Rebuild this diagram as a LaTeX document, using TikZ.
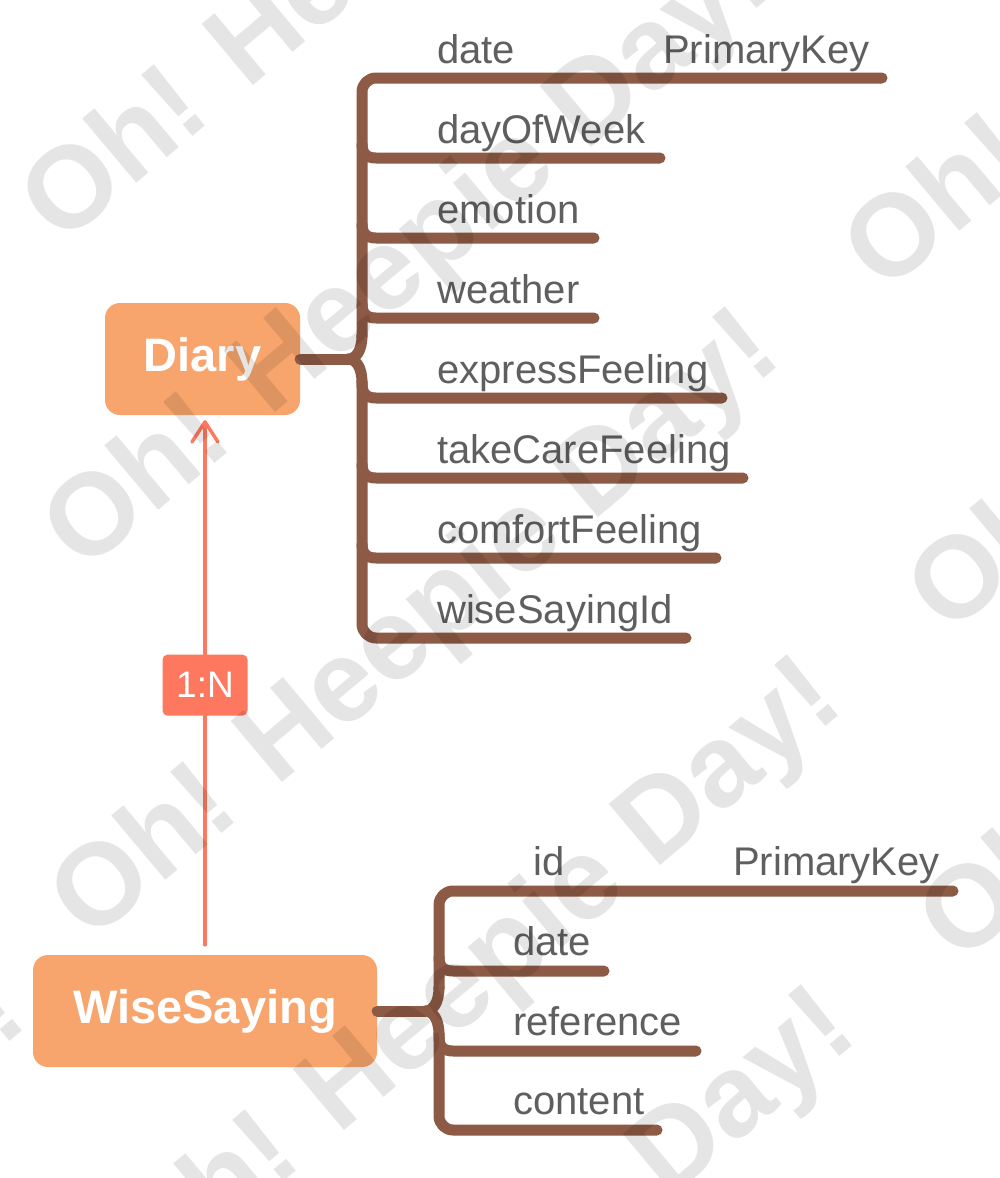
\documentclass[tikz,border=0pt]{standalone}
\usepackage{fontspec}
\setmainfont{Liberation Sans}
\usetikzlibrary{arrows.meta}
\definecolor{brn}{HTML}{8C5A45}
\definecolor{org}{HTML}{F7A56C}
\definecolor{crl}{HTML}{FE785F}
\definecolor{lblc}{HTML}{5F5F5F}
\tikzset{
 br/.style={draw=brn, line width=11pt, line cap=round, line join=round},
 fld/.style={anchor=base west, inner sep=0pt, text=lblc, font=\fontsize{40}{48}\selectfont},
 ent/.style={fill=org, rounded corners=15pt, text=white, font=\bfseries\fontsize{47}{56}\selectfont, inner sep=0pt},
 rel/.style={draw=crl, line width=3.5pt, line cap=round},
 card/.style={fill=crl, rounded corners=5pt, text=white, font=\fontsize{37}{44}\selectfont, minimum width=85pt, minimum height=61pt, inner sep=0pt},
 wm/.style={anchor=base west, rotate=40, inner sep=0pt, text=black, text opacity=0.1, font=\bfseries\fontsize{116}{140}\selectfont},
}
\begin{document}
\begin{tikzpicture}[x=1pt,y=-1pt]
\useasboundingbox (0,0) rectangle (1000,1178);
\fill[white] (0,0) rectangle (1000,1178);
% entities
\node[ent, minimum width=195pt, minimum height=112pt] (diary) at (202.5,359) {Diary};
\node[ent, minimum width=344pt, minimum height=112pt] (ws) at (205,1011) {WiseSaying};
% Diary brace
\coordinate (dtip) at (348,359);
\draw[br] (diary.east) -- (dtip);
\draw[br, rounded corners=14pt] (882,78) -- (362,78) -- (362,337);
\draw[br] (362,335) .. controls (362,351) and (356,359) .. (dtip) .. controls (356,359) and (362,367) .. (362,383);
\draw[br, rounded corners=14pt] (362,381) -- (362,638) -- (686,638);
\foreach \y/\e in {158/660,238/594,318/594,398/722,478/743,558/716}
  \draw[br] (362,\y-14) .. controls (362,\y-5) and (366,\y) .. (376,\y) -- (\e,\y);
\foreach \t [count=\i] in {date,dayOfWeek,emotion,weather,expressFeeling,takeCareFeeling,comfortFeeling,wiseSayingId}
  \node[fld] (df\i) at (437,{63+80*(\i-1)}) {\t};
\node[fld] (dpk) at (663,63) {PrimaryKey};
% WiseSaying brace
\coordinate (wtip) at (425,1011);
\draw[br] (ws.east) -- (wtip);
\draw[br, rounded corners=14pt] (953,891) -- (439,891) -- (439,989);
\draw[br] (439,987) .. controls (439,1003) and (433,1011) .. (wtip) .. controls (433,1011) and (439,1019) .. (439,1035);
\draw[br, rounded corners=14pt] (439,1033) -- (439,1130) -- (657,1130);
\foreach \y/\e in {971/604,1051/696}
  \draw[br] (439,\y-14) .. controls (439,\y-5) and (443,\y) .. (453,\y) -- (\e,\y);
\node[fld] (wid) at (533,875) {id};
\node[fld] (wpk) at (733,875) {PrimaryKey};
\node[fld] (wdate) at (513,955) {date};
\node[fld] (wref) at (513,1035) {reference};
\node[fld] (wcon) at (513,1114) {content};
% relation
\coordinate (atop) at (ws.north |- diary.south);
\draw[rel, -{Straight Barb[length=20pt, width=26pt, round]}] ([yshift=10pt]ws.north) -- node[card, pos=0.495] (card) {1:N} ([yshift=-5pt]atop);
% watermark
\begin{scope}
\clip (0,0) rectangle (1000,1178);
\foreach \x/\y [count=\i] in {61/247,83/574,90/944,152/1292,166/1622,884/295,948/637,959/966,-664/1607}
  \node[wm] (wm\i) at (\x,\y) {Oh! Heepie Day!};
\end{scope}
\end{tikzpicture}
\end{document}
